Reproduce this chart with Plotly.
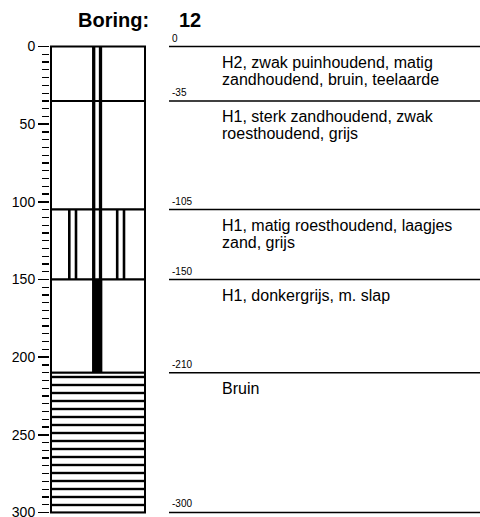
"""Boorprofiel (boring log) for boring 12."""
import plotly.graph_objects as go

FONT = "Liberation Sans, Arial, sans-serif"

# Boring data
boring_id = "12"
layer_top = [0, 35, 105, 150, 210]
layer_bottom = [35, 105, 150, 210, 300]
descriptions = [
    "H2, zwak puinhoudend, matig<br>zandhoudend, bruin, teelaarde",
    "H1, sterk zandhoudend, zwak<br>roesthoudend, grijs",
    "H1, matig roesthoudend, laagjes<br>zand, grijs",
    "H1, donkergrijs, m. slap",
    "Bruin",
]
hatch = ["", "", "", "", "-"]                      # lithology fill pattern
center_symbol = ["dubbel", "dubbel", "dubbel", "massief", ""]
side_symbol = [False, False, True, False, False]

# column geometry (x axis is in screen pixels, 0 = left of the column)
COL_X = 47
COL_W = 94
TEXT_X = 169
LINE_X0 = 118
LINE_X1 = 430

thickness = [b - t for t, b in zip(layer_top, layer_bottom)]

fig = go.Figure()

# Layers of the column
fig.add_trace(go.Bar(
    x=[COL_X] * len(layer_top),
    base=layer_top,
    y=thickness,
    width=COL_W,
    marker=dict(
        color="white",
        line=dict(color="black", width=2),
        pattern=dict(shape=hatch, fgcolor="black", bgcolor="white",
                     fgopacity=1, size=8, solidity=0.3),
    ),
    hoverinfo="skip",
))


def add_symbol(xs, width, mask):
    """Black vertical strips in the column for the layers in mask."""
    tops = [t for t, m in zip(layer_top, mask) if m]
    dys = [d for d, m in zip(thickness, mask) if m]
    for x in xs:
        fig.add_trace(go.Bar(
            x=[x] * len(tops),
            base=tops,
            y=dys,
            width=width,
            marker=dict(color="black", line=dict(width=0)),
            hoverinfo="skip",
        ))


add_symbol([42.7, 49.5], 3.3, [s == "dubbel" for s in center_symbol])
add_symbol([46.2], 10.3, [s == "massief" for s in center_symbol])
add_symbol([18.3, 25.0, 66.2, 73.0], 2.6, side_symbol)

# Boundary lines on the description side
depths = layer_top + [layer_bottom[-1]]
lx, ly = [], []
for d in depths:
    lx += [LINE_X0, LINE_X1, None]
    ly += [d, d, None]
fig.add_trace(go.Scatter(
    x=lx, y=ly, mode="lines",
    line=dict(color="black", width=1.5),
    hoverinfo="skip",
))

annotations = []
for d in depths:
    annotations.append(dict(
        x=LINE_X0 + 1, y=d, xref="x", yref="y",
        text=f"{-d}", showarrow=False,
        xanchor="left", yanchor="bottom", yshift=1,
        font=dict(family=FONT, size=10, color="black"),
    ))

for top, desc in zip(layer_top, descriptions):
    for j, line in enumerate(desc.split("<br>")):
        annotations.append(dict(
            x=TEXT_X, y=top, xref="x", yref="y",
            text=line, showarrow=False,
            xanchor="left", yanchor="middle", yshift=-(16 + 17 * j),
            font=dict(family=FONT, size=16, color="black"),
        ))

# Title
annotations.append(dict(
    x=62, y=1, xref="x", yref="paper", text="<b>Boring:</b>",
    showarrow=False, xanchor="center", yanchor="middle", yshift=25,
    font=dict(family=FONT, size=20, color="black"),
))
annotations.append(dict(
    x=126, y=1, xref="x", yref="paper", text=f"<b>{boring_id}</b>",
    showarrow=False, xanchor="left", yanchor="middle", yshift=25,
    font=dict(family=FONT, size=20, color="black"),
))

fig.update_layout(
    width=480,
    height=517,
    margin=dict(l=50, r=0, t=45, b=3, autoexpand=False),
    barmode="overlay",
    showlegend=False,
    plot_bgcolor="white",
    paper_bgcolor="white",
    annotations=annotations,
    xaxis=dict(range=[-1, 429], visible=False, fixedrange=True),
    yaxis=dict(
        range=[301, -1],
        automargin=False,
        tickmode="linear", tick0=0, dtick=50,
        ticks="outside", ticklen=11, tickwidth=1.5, tickcolor="black",
        minor=dict(tick0=0, dtick=5, ticks="outside", ticklen=7,
                   tickwidth=1.2, tickcolor="black"),
        showgrid=False, zeroline=False, showline=False,
        tickfont=dict(family=FONT, size=14, color="black"),
        ticklabeloverflow="allow",
        fixedrange=True,
    ),
)

# page has a default 8px body margin; drop it so the figure fills the window
fig.write_html(
    "out.html",
    config={"displayModeBar": False, "staticPlot": True},
    post_script="document.body.style.margin='0';document.body.style.overflow='hidden';",
)
